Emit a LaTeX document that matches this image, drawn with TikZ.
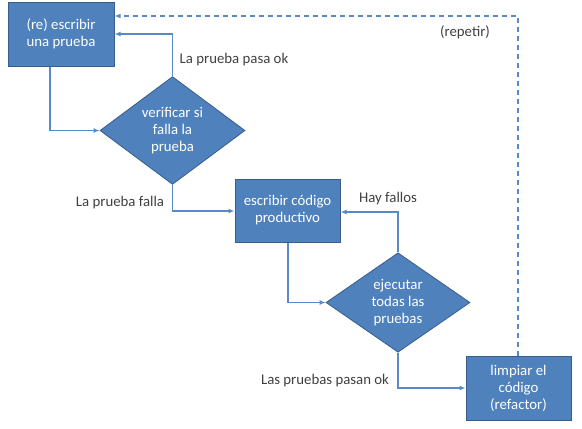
\documentclass[tikz,border=0pt]{standalone}
\usepackage{fontspec}
\setmainfont{Carlito}
\usetikzlibrary{shapes.geometric,arrows.meta}
\definecolor{boxfill}{HTML}{4F81BD}
\definecolor{boxdraw}{HTML}{385D8A}
\definecolor{linec}{HTML}{5A8AC6}
\definecolor{labc}{HTML}{404040}
\begin{document}
\begin{tikzpicture}[x=1pt,y=-1pt,
  font=\fontsize{14.8}{17}\selectfont,
  procbox/.style={draw=boxdraw,fill=boxfill,line width=1pt,text=white,align=center,inner sep=0pt},
  decbox/.style={shape=diamond,draw=boxdraw,fill=boxfill,line width=0.8pt,text=white,align=center,inner sep=0pt},
  conn/.style={draw=linec,line width=1.2pt,-{Latex[length=6pt,width=5pt]}},
  lab/.style={text=labc,inner sep=0pt}]
\useasboundingbox (0,0) rectangle (582,429);
\node[procbox,minimum width=106pt,minimum height=64pt] (b1) at (61,34) {(re) escribir\\una prueba};
\node[decbox,minimum width=145pt,minimum height=93pt] (d1) at (172.5,130.5) {verificar si\\falla la\\prueba};
\node[procbox,minimum width=105pt,minimum height=63pt] (b2) at (287.5,210.5) {escribir código\\productivo};
\node[decbox,minimum width=144pt,minimum height=93pt] (d2) at (398,302.5) {ejecutar\\todas las\\pruebas};
\node[procbox,minimum width=105pt,minimum height=64pt] (b3) at (518.5,388) {limpiar el\\código\\(refactor)};
\coordinate (c1) at (50,130.5);
\coordinate (c2) at (172.5,34);
\coordinate (c3) at (172.5,211);
\coordinate (c4) at (288,302.5);
\coordinate (c5) at (398,212);
\coordinate (c6) at (398,388);
\coordinate (c7) at (518,16);
\draw[conn] (b1.south -| c1) -- (c1) -- (d1.west);
\draw[conn] (d1.north) -- (c2) -- (c2 -| b1.east);
\draw[conn] (d1.south) -- (c3) -- (c3 -| b2.west);
\draw[conn] (b2.south -| c4) -- (c4) -- (d2.west);
\draw[conn] (d2.north) -- (c5) -- (c5 -| b2.east);
\draw[conn] (d2.south) -- (c6) -- (c6 -| b3.west);
\draw[conn,dash pattern=on 5pt off 4pt] (b3.north -| c7) -- (c7) -- (c7 -| b1.east);
\node[lab] (l1) at (234,60) {La prueba pasa ok};
\node[lab] (l2) at (120,203) {La prueba falla};
\node[lab] (l3) at (388,199) {Hay fallos};
\node[lab] (l4) at (325,381) {Las pruebas pasan ok};
\node[lab] (l5) at (465,32) {(repetir)};
\end{tikzpicture}
\end{document}
